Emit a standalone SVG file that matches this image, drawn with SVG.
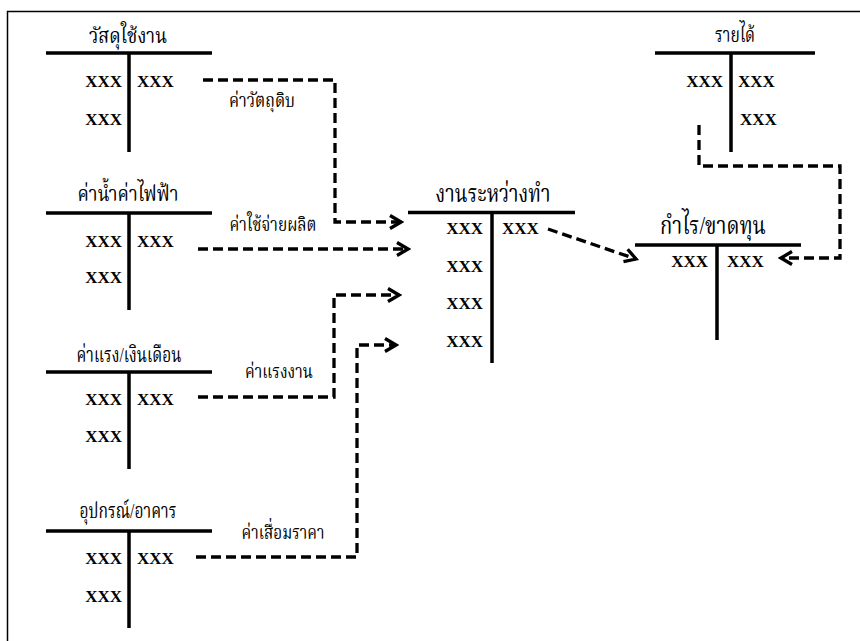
<svg xmlns="http://www.w3.org/2000/svg" width="860" height="641" viewBox="0 0 860 641">
<style>
.bar{stroke:#000;stroke-width:3.5;fill:none}
.frame{stroke:#000;stroke-width:1.5;fill:none}
.x{font-family:"Liberation Serif",serif;font-weight:bold;font-size:17px;fill:#000}
.xl{text-anchor:end}
.t{font-family:"Liberation Serif","Noto Serif Thai","Noto Sans Thai",serif;font-size:22px;fill:#000;text-anchor:middle}
.tb{font-size:25px}
.lbl{font-family:"Liberation Serif","Noto Serif Thai","Noto Sans Thai",serif;font-size:20px;fill:#000;text-anchor:middle}
.c{stroke:#000;stroke-width:3.3;fill:none;stroke-dasharray:10 5}
</style>
<defs>
<marker id="ah" markerUnits="userSpaceOnUse" markerWidth="18" markerHeight="18" viewBox="0 0 18 18" refX="15" refY="9" orient="auto">
<path d="M4,2.5 L15,9 L4,15.5" fill="none" stroke="#000" stroke-width="3.3"/>
</marker>
</defs>
<rect width="860" height="641" fill="#fff"/>
<path class="frame" d="M7.5,641 V11.5 H860"/>

<g id="n1">
<text class="t" x="128" y="43" textLength="78" lengthAdjust="spacingAndGlyphs">วัสดุใช้งาน</text>
<path class="bar" d="M46,53 H212 M129,53 V152"/>
<text class="x xl" x="122" y="87">XXX</text>
<text class="x" x="137" y="87">XXX</text>
<text class="x xl" x="122" y="125">XXX</text>
</g>

<g id="n2">
<text class="t" x="128" y="201" textLength="101" lengthAdjust="spacingAndGlyphs">ค่าน้ำค่าไฟฟ้า</text>
<path class="bar" d="M46,213 H212 M129,213 V310"/>
<text class="x xl" x="122" y="247">XXX</text>
<text class="x" x="137" y="247">XXX</text>
<text class="x xl" x="122" y="283">XXX</text>
</g>

<g id="n3">
<text class="t" x="129" y="362" textLength="105" lengthAdjust="spacingAndGlyphs">ค่าแรง/เงินเดือน</text>
<path class="bar" d="M46,372 H212 M129,372 V469"/>
<text class="x xl" x="122" y="405">XXX</text>
<text class="x" x="137" y="405">XXX</text>
<text class="x xl" x="122" y="442">XXX</text>
</g>

<g id="n4">
<text class="t" x="128" y="518" textLength="97" lengthAdjust="spacingAndGlyphs">อุปกรณ์/อาคาร</text>
<path class="bar" d="M46,531 H212 M129,531 V628"/>
<text class="x xl" x="122" y="564">XXX</text>
<text class="x" x="137" y="564">XXX</text>
<text class="x xl" x="122" y="602">XXX</text>
</g>

<g id="n5">
<text class="t tb" x="493" y="202" textLength="115" lengthAdjust="spacingAndGlyphs">งานระหว่างทำ</text>
<path class="bar" d="M408,212.5 H575 M492,212.5 V363"/>
<text class="x xl" x="483" y="234">XXX</text>
<text class="x" x="502" y="234">XXX</text>
<text class="x xl" x="483" y="272">XXX</text>
<text class="x xl" x="483" y="309">XXX</text>
<text class="x xl" x="483" y="347">XXX</text>
</g>

<g id="n6">
<text class="t tb" x="713" y="234" textLength="106" lengthAdjust="spacingAndGlyphs">กำไร/ขาดทุน</text>
<path class="bar" d="M635,245 H801 M717,245 V340"/>
<text class="x xl" x="708" y="267">XXX</text>
<text class="x" x="727" y="267">XXX</text>
</g>

<g id="n7">
<text class="t" x="735" y="42" textLength="40" lengthAdjust="spacingAndGlyphs">รายได้</text>
<path class="bar" d="M655,53 H815 M731,53 V152"/>
<text class="x xl" x="723" y="87">XXX</text>
<text class="x" x="738" y="87">XXX</text>
<text class="x" x="740" y="125">XXX</text>
</g>

<g id="connectors">
<path class="c" d="M203,80 H335 V222 H401" marker-end="url(#ah)"/>
<text class="lbl" x="262" y="107" textLength="66" lengthAdjust="spacingAndGlyphs">ค่าวัตถุดิบ</text>
<path class="c" d="M198,249 H408" marker-end="url(#ah)"/>
<text class="lbl" x="273" y="231" textLength="87" lengthAdjust="spacingAndGlyphs">ค่าใช้จ่ายผลิต</text>
<path class="c" d="M198,397 H334 V295 H399" marker-end="url(#ah)"/>
<text class="lbl" x="279" y="378" textLength="68" lengthAdjust="spacingAndGlyphs">ค่าแรงงาน</text>
<path class="c" d="M196,557 H357 V345 H396" marker-end="url(#ah)"/>
<text class="lbl" x="283" y="539" textLength="83" lengthAdjust="spacingAndGlyphs">ค่าเสื่อมราคา</text>
<path class="c" d="M548,229 L636,259" marker-end="url(#ah)"/>
<path class="c" d="M699,125 V166 H840 V258 H781" marker-end="url(#ah)"/>
</g>
</svg>
